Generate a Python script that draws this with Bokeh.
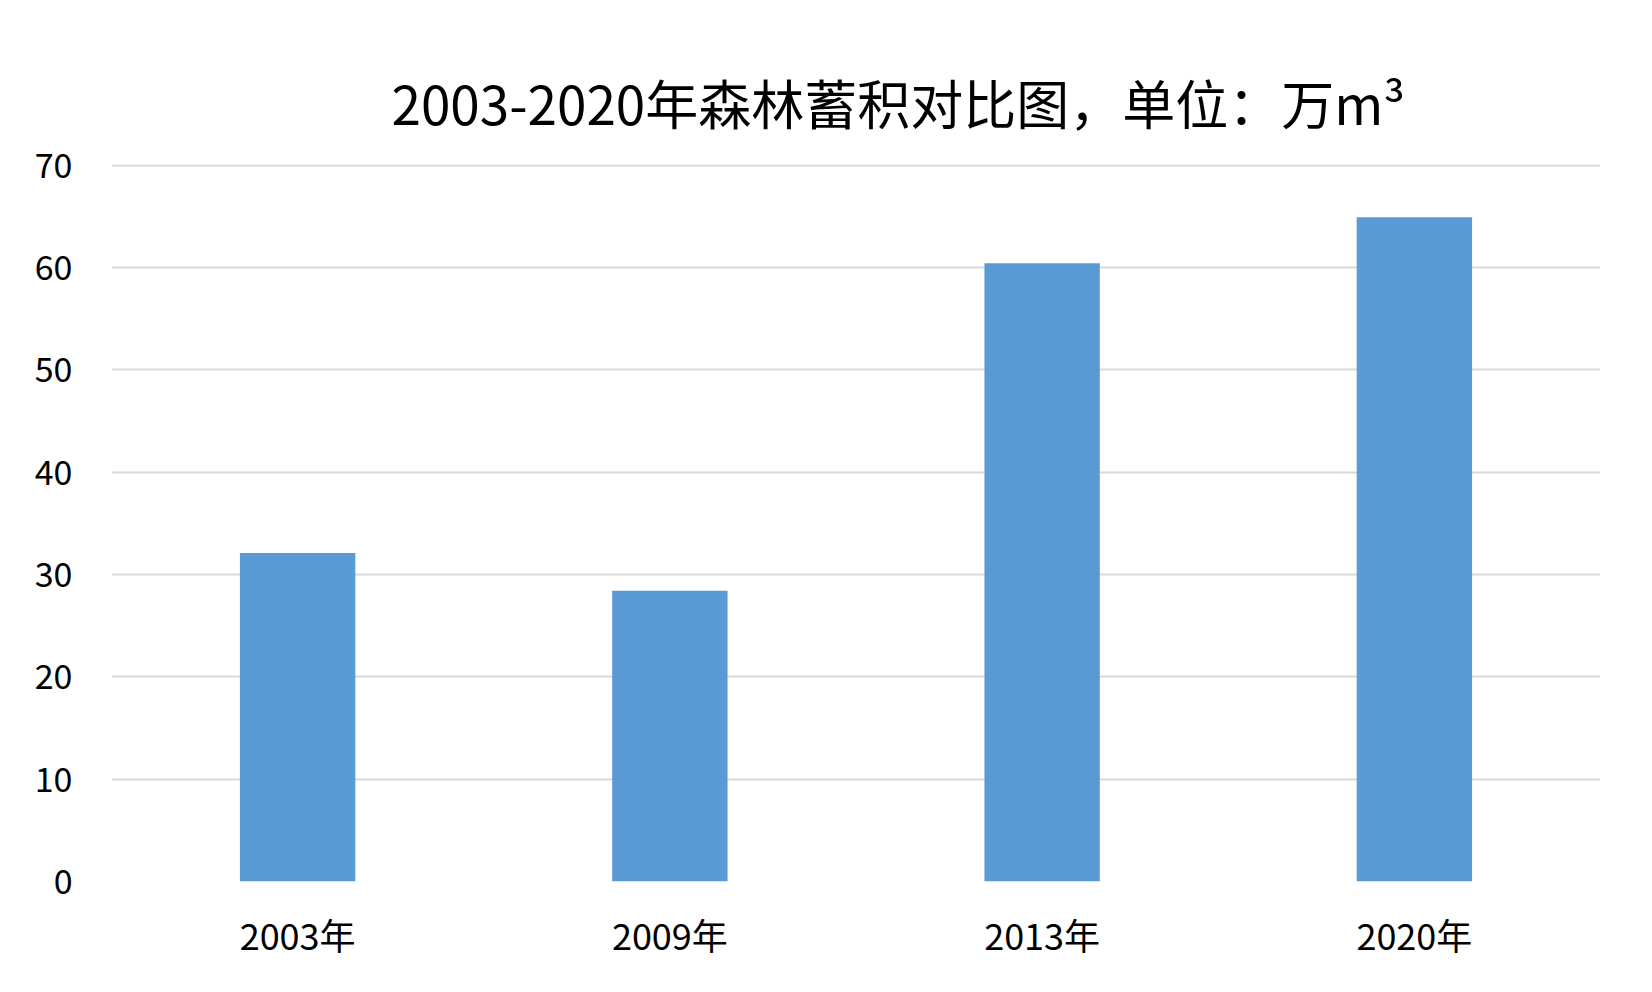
from bokeh.plotting import figure
from bokeh.models import FixedTicker, Range1d
from bokeh.embed import file_html
from bokeh.resources import INLINE

categories = ["2003年", "2009年", "2013年", "2020年"]
values = [32.1, 28.4, 60.4, 64.9]
y_ticks = [0, 10, 20, 30, 40, 50, 60, 70]
title_text = "2003-2020年森林蓄积对比图，单位：万m³"

FONT = "Noto Sans CJK SC"

p = figure(
    x_range=categories,
    y_range=Range1d(0, 70.05),
    width=1636, height=976,
    output_backend="svg",
    toolbar_location=None,
    min_border_left=111, min_border_right=36,
    min_border_top=164, min_border_bottom=95,
)

p.vbar(x=categories, top=values, width=0.31, color="#5B9BD5", line_color=None)

p.title.text = title_text
p.title.text_font = FONT
p.title.text_font_size = "53px"
p.title.text_font_style = "normal"
p.title.text_color = "#000000"
p.title.align = "left"
p.title.offset = 280
p.title.standoff = 50

p.outline_line_color = None
p.background_fill_color = "white"
p.border_fill_color = "white"

p.yaxis.ticker = FixedTicker(ticks=y_ticks)
p.yaxis.axis_line_color = None
p.yaxis.major_tick_line_color = None
p.yaxis.minor_tick_line_color = None
p.yaxis.major_label_text_font = FONT
p.yaxis.major_label_text_font_size = "34px"
p.yaxis.major_label_text_color = "#000000"
p.yaxis.major_label_standoff = 33

p.xaxis.axis_line_color = None
p.xaxis.major_tick_line_color = None
p.xaxis.major_label_text_font = FONT
p.xaxis.major_label_text_font_size = "36px"
p.xaxis.major_label_text_color = "#000000"
p.xaxis.major_label_standoff = 20

p.xgrid.grid_line_color = None
p.ygrid.grid_line_color = "#D9D9D9"
p.ygrid.grid_line_width = 2

open("out.html", "w").write(file_html(p, INLINE))
